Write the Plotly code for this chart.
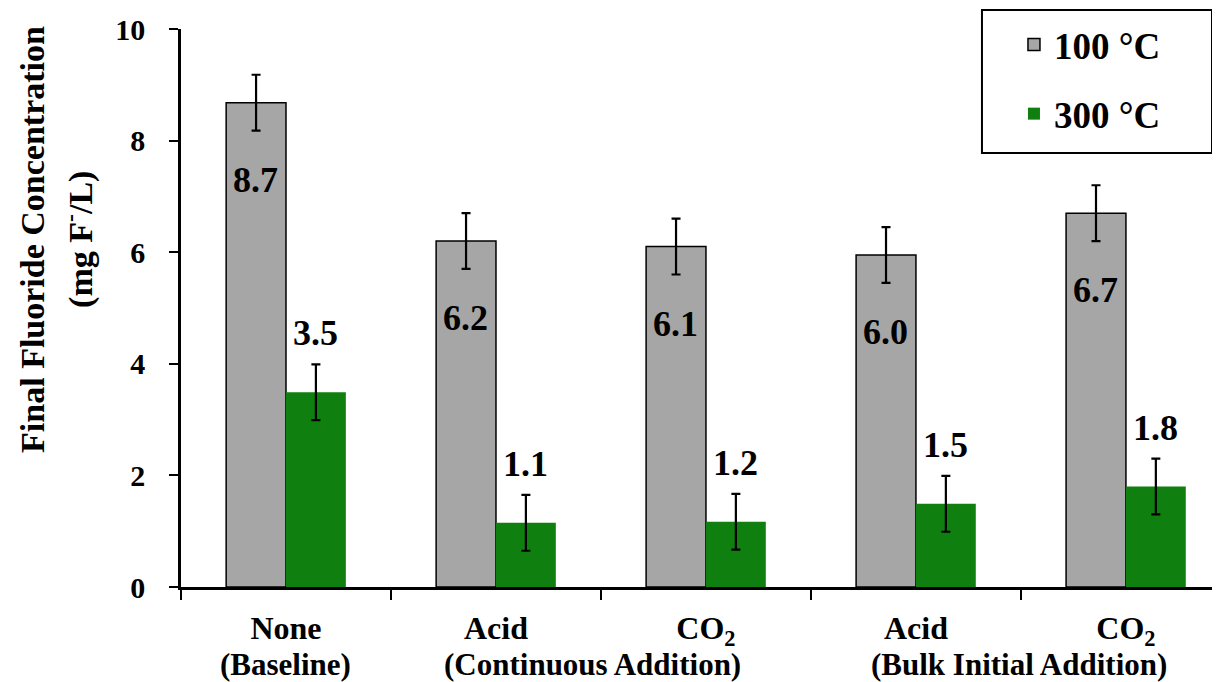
import plotly.graph_objects as go

categories = ["None (Baseline)", "Acid (Continuous Addition)", "CO2 (Continuous Addition)",
              "Acid (Bulk Initial Addition)", "CO2 (Bulk Initial Addition)"]
tick_labels = ["None", "Acid", "CO<sub>2</sub>", "Acid", "CO<sub>2</sub>"]
group_labels = ["(Baseline)", "(Continuous Addition)", "(Bulk Initial Addition)"]
group_label_pos = [0, 1.46, 3.49]
y_title_lines = ["Final Fluoride Concentration", "(mg F<sup>-</sup>/L)"]

series_names = ["100 °C", "300 °C"]
vals_100 = [8.68, 6.2, 6.1, 5.95, 6.7]
vals_300 = [3.49, 1.15, 1.17, 1.49, 1.8]
err_100 = [0.5, 0.5, 0.5, 0.5, 0.5]
err_300 = [0.5, 0.5, 0.5, 0.5, 0.5]
labels_100 = ["8.7", "6.2", "6.1", "6.0", "6.7"]
labels_300 = ["3.5", "1.1", "1.2", "1.5", "1.8"]

FONT = "Liberation Serif"
GRAY = "#A6A6A6"
GREEN = "#0F7F0F"

fig = go.Figure()
fig.add_trace(go.Bar(
    x=categories, y=vals_100, name=series_names[0], legendgroup="a",
    marker=dict(color=GRAY, line=dict(color="black", width=1.5)),
    error_y=dict(type="data", array=err_100, color="black", thickness=2.2, width=4.5),
))
fig.add_trace(go.Bar(
    x=categories, y=vals_300, name=series_names[1], legendgroup="b",
    marker=dict(color=GREEN, line=dict(width=0)),
    error_y=dict(type="data", array=err_300, color="black", thickness=2.2, width=4.5),
))

annotations = []
for c, v, t in zip(categories, vals_100, labels_100):
    annotations.append(dict(x=c, y=v, text="<b>%s</b>" % t, showarrow=False,
                            xshift=-30, yshift=-77, yanchor="middle",
                            font=dict(family=FONT, size=36, color="black")))
for c, v, t in zip(categories, vals_300, labels_300):
    annotations.append(dict(x=c, y=v, text="<b>%s</b>" % t, showarrow=False,
                            xshift=30, yshift=59, yanchor="middle",
                            font=dict(family=FONT, size=36, color="black")))
for p, t in zip(group_label_pos, group_labels):
    annotations.append(dict(x=p, y=0, xref="x", yref="paper", text="<b>%s</b>" % t,
                            showarrow=False, yanchor="top", yshift=-58,
                            font=dict(family=FONT, size=31, color="black")))
for xs, t in zip([-148, -102], y_title_lines):
    annotations.append(dict(x=0, y=0.622, xref="paper", yref="paper", xshift=xs,
                            text="<b>%s</b>" % t, textangle=-90, showarrow=False,
                            xanchor="center", yanchor="middle",
                            font=dict(family=FONT, size=34, color="black")))

# legend frame
legend_box = dict(type="rect", xref="paper", yref="paper",
                  x0=0.7709, x1=0.9923, y0=0.7778, y1=1.034,
                  line=dict(color="black", width=2), fillcolor="white", layer="below")

fig.update_layout(
    width=1212, height=674,
    margin=dict(l=173, r=0, t=21, b=95),
    paper_bgcolor="white", plot_bgcolor="white",
    barmode="group", bargap=0.43, bargroupgap=0,
    font=dict(family=FONT, color="black"),
    showlegend=True,
    legend=dict(x=0.8017, y=1.0269, xanchor="left", yanchor="top",
                borderwidth=0, bgcolor="rgba(0,0,0,0)",
                font=dict(family=FONT, size=37, color="black", weight="bold"),
                traceorder="grouped", tracegroupgap=18, itemwidth=30),
    annotations=annotations,
    shapes=[legend_box],
)
fig.update_xaxes(
    range=[-0.5, 4.448], tickmode="array", tickvals=categories,
    ticktext=["<b>%s</b>" % t for t in tick_labels],
    tickson="boundaries", ticks="outside", ticklen=10, tickwidth=2, tickcolor="black",
    showline=True, linewidth=2.5, linecolor="black", showgrid=False,
    tickfont=dict(family=FONT, size=32, color="black"), ticklabelstandoff=11,
)
fig.update_yaxes(
    range=[0, 10], tickmode="linear", tick0=0, dtick=2,
    ticks="outside", ticklen=9, tickwidth=2, tickcolor="black",
    showline=True, linewidth=2.5, linecolor="black", showgrid=False, zeroline=False,
    tickfont=dict(family=FONT, size=30, color="black", weight="bold"), ticklabelstandoff=18,
)

fig.write_html("out.html")
